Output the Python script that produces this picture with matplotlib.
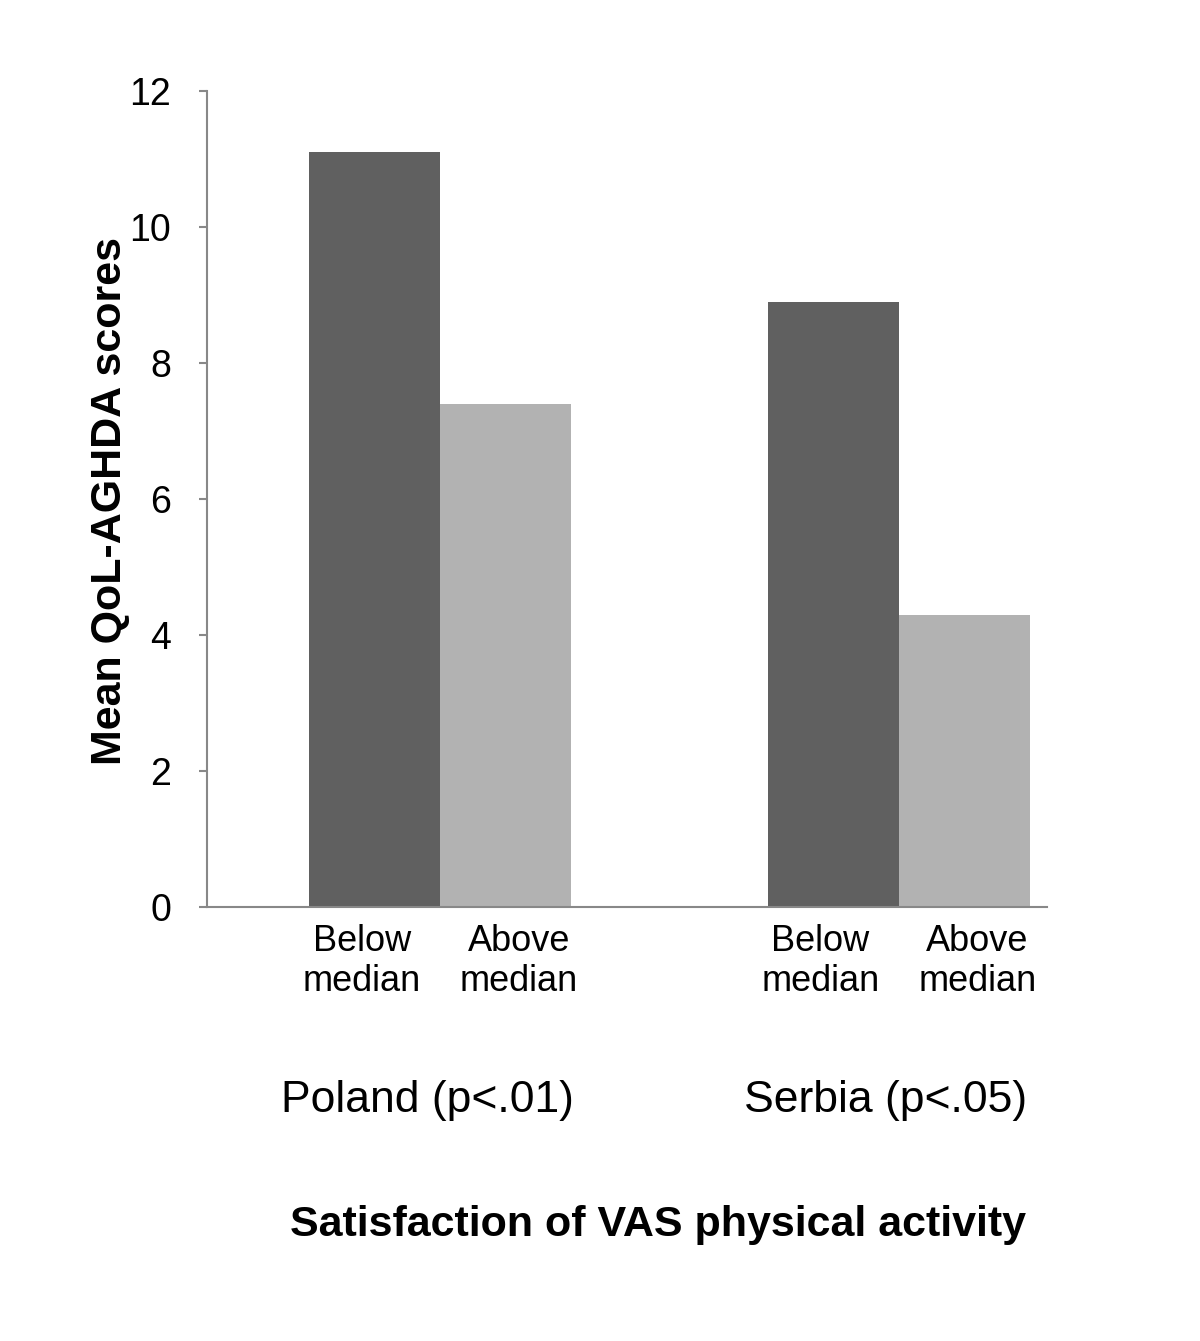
import matplotlib
matplotlib.use("Agg")
from matplotlib import pyplot as plt
import numpy as np

plt.rcParams['font.family'] = ['Liberation Sans', 'DejaVu Sans']

groups = ['Poland (p<.01)', 'Serbia (p<.05)']
subgroups = ['Below\nmedian', 'Above\nmedian']
below = [11.1, 8.9]
above = [7.4, 4.3]
colors = ['#606060', '#b2b2b2']

fig = plt.figure(figsize=(12, 13.41), dpi=100)
ax = fig.add_axes([0.1725, 0.3236, 0.7, 0.6085])

centers = np.array([1.78, 5.28])
ax.bar(centers - 0.5, below, width=1.0, color=colors[0])
ax.bar(centers + 0.5, above, width=1.0, color=colors[1])

ax.set_xlim(0, 6.41)
ax.set_ylim(0, 12)
ax.set_yticks(np.arange(0, 13, 2))
ax.tick_params(axis='y', labelsize=27, length=6, width=1.5, color='#888888', pad=20)

# category labels sit a little wider apart than the bars
tick_pos = np.sort(np.concatenate([centers - 0.6, centers + 0.6]))
ax.set_xticks(tick_pos)
ax.set_xticklabels(subgroups * 2, linespacing=1.2)
ax.tick_params(axis='x', labelsize=26, length=0, pad=12)

for s in ['top', 'right']:
    ax.spines[s].set_visible(False)
for s in ['left', 'bottom']:
    ax.spines[s].set_color('#888888')
    ax.spines[s].set_linewidth(1.5)

ax.set_ylabel('Mean QoL-AGHDA scores', fontsize=31, fontweight='bold', va='center')
ax.yaxis.set_label_coords(-0.116, 0.4975)

for c, g in zip(centers, groups):
    ax.text(c - 0.1, -2.84, g, ha='center', va='center', fontsize=32)

fig.text(0.548, 0.0865, 'Satisfaction of VAS physical activity',
         ha='center', va='center', fontsize=31, fontweight='bold')

fig.savefig('out.png', dpi=100)
